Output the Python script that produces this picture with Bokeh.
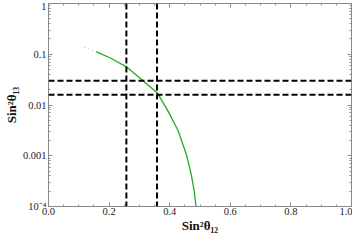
from bokeh.plotting import figure
from bokeh.models import Span, LinearAxis, LogAxis, FixedTicker, Range1d
from bokeh.embed import file_html
from bokeh.resources import INLINE

# data
curve_x = [0.157, 0.206, 0.26, 0.312, 0.36, 0.395, 0.428, 0.455, 0.471, 0.481, 0.487]
curve_y = [0.113, 0.0835, 0.055, 0.030, 0.017, 0.0075, 0.0031, 0.00106, 0.00043, 0.0002, 0.0001]
faint_x = [0.119, 0.157]
faint_y = [0.137, 0.113]
v_lines = [0.257, 0.358]
h_lines = [0.030, 0.016]

x_ticks = [0.0, 0.2, 0.4, 0.6, 0.8, 1.0]
x_tick_labels = ["0.0", "0.2", "0.4", "0.6", "0.8", "1.0"]
y_ticks = [1e-4, 1e-3, 1e-2, 1e-1, 1]
y_tick_labels = ["10\u207b\u2074", "0.001", "0.01", "0.1", "1"]

FONT = "Liberation Serif"
GRAY = "#8a8a8a"

p = figure(width=352, height=235, x_range=Range1d(0, 1), y_range=Range1d(1e-4, 1),
           y_axis_type="log", output_backend="svg", toolbar_location=None,
           min_border_left=30, min_border_right=1, min_border_top=3, min_border_bottom=20)
p.xgrid.visible = False
p.ygrid.visible = False
p.outline_line_color = GRAY
p.outline_line_width = 1
p.background_fill_color = "white"
p.border_fill_color = "white"

x_minor = [i / 20 for i in range(21)]
y_minor = []
for e in range(-4, 0):
    for m in range(1, 10):
        y_minor.append(m * 10 ** e)


def style_axis(ax, labels=True):
    ax.axis_line_color = GRAY
    ax.major_tick_line_color = GRAY
    ax.minor_tick_line_color = GRAY
    ax.major_tick_in = 4
    ax.major_tick_out = 0
    ax.minor_tick_in = 2
    ax.minor_tick_out = 0
    ax.major_label_text_font = FONT
    ax.major_label_text_font_size = "10.5px"
    ax.major_label_text_color = "#222222"
    ax.axis_label_text_font = FONT
    ax.axis_label_text_font_style = "bold"
    ax.axis_label_text_font_size = "13px"
    ax.axis_label_text_color = "#111111"
    if not labels:
        ax.major_label_text_font_size = "0px"
        ax.major_label_standoff = 0
        ax.major_label_text_alpha = 0


xa = p.xaxis[0]
xa.ticker = FixedTicker(ticks=x_ticks, minor_ticks=x_minor)
xa.major_label_overrides = {t: l for t, l in zip(x_ticks, x_tick_labels)}
xa.axis_label = "Sin\u00b2\u03b8\u2081\u2082"
style_axis(xa)
xa.axis_label_standoff = 0
xa.major_label_standoff = 1

ya = p.yaxis[0]
ya.ticker = FixedTicker(ticks=y_ticks, minor_ticks=y_minor)
ya.major_label_overrides = {t: l for t, l in zip(y_ticks, y_tick_labels)}
ya.axis_label = "Sin\u00b2\u03b8\u2081\u2083"
style_axis(ya)
ya.axis_label_standoff = 1
ya.major_label_standoff = 2

top = LinearAxis(ticker=FixedTicker(ticks=x_ticks, minor_ticks=x_minor))
style_axis(top, labels=False)
p.add_layout(top, "above")
right = LogAxis(ticker=FixedTicker(ticks=y_ticks, minor_ticks=y_minor))
style_axis(right, labels=False)
p.add_layout(right, "right")

for v in v_lines:
    p.add_layout(Span(location=v, dimension="height", line_color="black",
                      line_width=2, line_dash="6 3"))
for h in h_lines:
    p.add_layout(Span(location=h, dimension="width", line_color="black",
                      line_width=2, line_dash="6 3"))

p.line(faint_x, faint_y, line_color="#9ad89a", line_width=1.2, line_dash="1 3")
p.line(curve_x, curve_y, line_color="#1fae1f", line_width=1.3)

open("out.html", "w").write(file_html(p, INLINE))
